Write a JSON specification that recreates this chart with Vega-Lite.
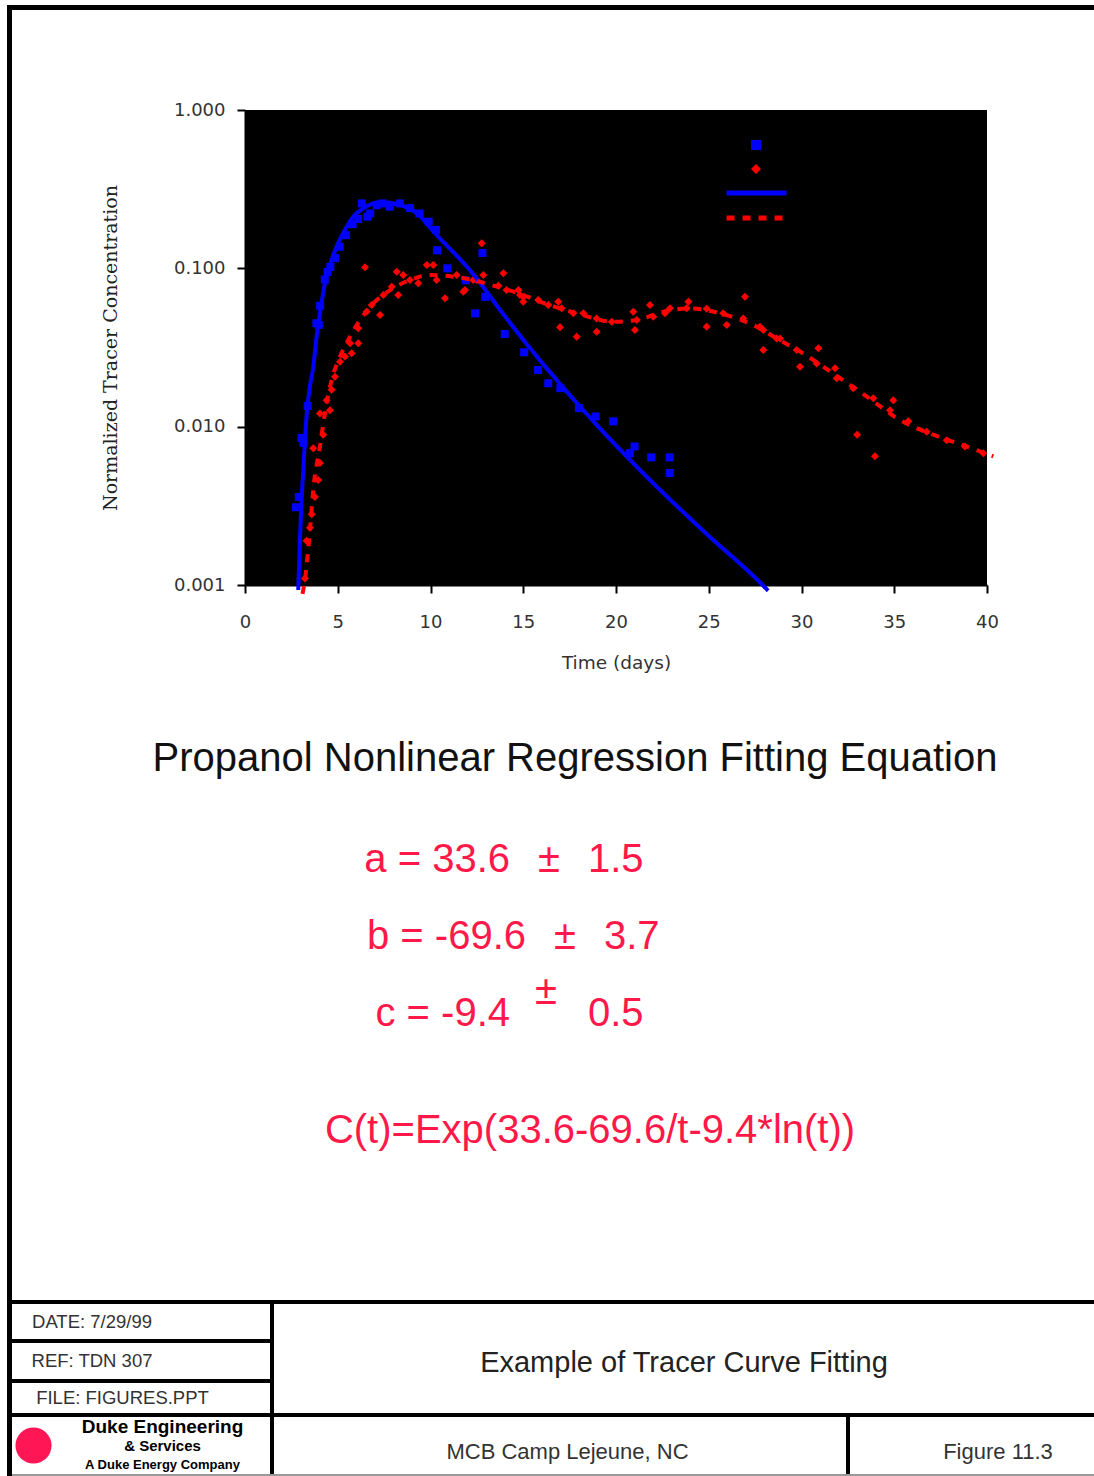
{
"$schema": "https://vega.github.io/schema/vega-lite/v6.json",
"background": "#ffffff",
"padding": {"left": 7, "top": 5, "right": 0, "bottom": 0},
"spacing": 0,
"config": {"view": {"stroke": null}, "concat": {"spacing": 0}},
"datasets": {
"pts": [
{"series":"Propanol (measured)","t":2.75,"C":0.0031},{"series":"Propanol (measured)","t":2.9,"C":0.0036},{"series":"Propanol (measured)","t":3.05,"C":0.0085},{"series":"Propanol (measured)","t":3.15,"C":0.0079},{"series":"Propanol (measured)","t":3.38,"C":0.0135},{"series":"Propanol (measured)","t":3.85,"C":0.045},{"series":"Propanol (measured)","t":3.98,"C":0.044},{"series":"Propanol (measured)","t":4.05,"C":0.058},{"series":"Propanol (measured)","t":4.3,"C":0.085},{"series":"Propanol (measured)","t":4.45,"C":0.095},{"series":"Propanol (measured)","t":4.6,"C":0.102},{"series":"Propanol (measured)","t":4.85,"C":0.116},{"series":"Propanol (measured)","t":5.1,"C":0.137},{"series":"Propanol (measured)","t":5.45,"C":0.162},{"series":"Propanol (measured)","t":5.8,"C":0.19},{"series":"Propanol (measured)","t":6.1,"C":0.205},{"series":"Propanol (measured)","t":6.3,"C":0.257},{"series":"Propanol (measured)","t":6.6,"C":0.212},{"series":"Propanol (measured)","t":6.75,"C":0.222},{"series":"Propanol (measured)","t":7.1,"C":0.25},{"series":"Propanol (measured)","t":7.4,"C":0.257},{"series":"Propanol (measured)","t":7.8,"C":0.245},{"series":"Propanol (measured)","t":8.35,"C":0.257},{"series":"Propanol (measured)","t":8.9,"C":0.24},{"series":"Propanol (measured)","t":9.4,"C":0.222},{"series":"Propanol (measured)","t":9.9,"C":0.197},{"series":"Propanol (measured)","t":10.3,"C":0.175},{"series":"Propanol (measured)","t":10.35,"C":0.13},{"series":"Propanol (measured)","t":10.9,"C":0.1},{"series":"Propanol (measured)","t":11.9,"C":0.084},{"series":"Propanol (measured)","t":12.4,"C":0.052},{"series":"Propanol (measured)","t":12.8,"C":0.125},{"series":"Propanol (measured)","t":12.95,"C":0.066},{"series":"Propanol (measured)","t":14.0,"C":0.0385},{"series":"Propanol (measured)","t":15.05,"C":0.0295},{"series":"Propanol (measured)","t":15.8,"C":0.0228},{"series":"Propanol (measured)","t":16.35,"C":0.0188},{"series":"Propanol (measured)","t":17.0,"C":0.0175},{"series":"Propanol (measured)","t":18.0,"C":0.0131},{"series":"Propanol (measured)","t":18.9,"C":0.0116},{"series":"Propanol (measured)","t":19.85,"C":0.0108},{"series":"Propanol (measured)","t":20.75,"C":0.0068},{"series":"Propanol (measured)","t":21.0,"C":0.0075},{"series":"Propanol (measured)","t":21.9,"C":0.0064},{"series":"Propanol (measured)","t":22.9,"C":0.0064},{"series":"Propanol (measured)","t":22.9,"C":0.0051},
{"series":"Tracer (measured)","t":3.23,"C":0.0011},{"series":"Tracer (measured)","t":3.32,"C":0.0019},{"series":"Tracer (measured)","t":3.5,"C":0.0023},{"series":"Tracer (measured)","t":3.6,"C":0.0028},{"series":"Tracer (measured)","t":3.68,"C":0.0073},{"series":"Tracer (measured)","t":3.77,"C":0.0036},{"series":"Tracer (measured)","t":3.95,"C":0.0046},{"series":"Tracer (measured)","t":4.04,"C":0.0059},{"series":"Tracer (measured)","t":4.04,"C":0.0121},{"series":"Tracer (measured)","t":4.22,"C":0.0089},{"series":"Tracer (measured)","t":4.4,"C":0.0147},{"series":"Tracer (measured)","t":4.58,"C":0.0127},{"series":"Tracer (measured)","t":4.67,"C":0.0171},{"series":"Tracer (measured)","t":4.85,"C":0.0207},{"series":"Tracer (measured)","t":5.12,"C":0.0257},{"series":"Tracer (measured)","t":5.39,"C":0.0277},{"series":"Tracer (measured)","t":5.66,"C":0.0336},{"series":"Tracer (measured)","t":5.75,"C":0.0291},{"series":"Tracer (measured)","t":6.11,"C":0.0336},{"series":"Tracer (measured)","t":6.11,"C":0.0418},{"series":"Tracer (measured)","t":6.47,"C":0.1016},{"series":"Tracer (measured)","t":6.56,"C":0.0532},{"series":"Tracer (measured)","t":6.83,"C":0.0587},{"series":"Tracer (measured)","t":7.28,"C":0.0507},{"series":"Tracer (measured)","t":7.46,"C":0.0679},{"series":"Tracer (measured)","t":7.91,"C":0.0766},{"series":"Tracer (measured)","t":8.18,"C":0.0952},{"series":"Tracer (measured)","t":8.26,"C":0.0679},{"series":"Tracer (measured)","t":8.53,"C":0.0907},{"series":"Tracer (measured)","t":8.89,"C":0.0843},{"series":"Tracer (measured)","t":9.34,"C":0.0804},{"series":"Tracer (measured)","t":9.8,"C":0.105},{"series":"Tracer (measured)","t":10.15,"C":0.105},{"series":"Tracer (measured)","t":10.33,"C":0.0843},{"series":"Tracer (measured)","t":10.78,"C":0.0647},{"series":"Tracer (measured)","t":11.41,"C":0.0907},{"series":"Tracer (measured)","t":11.77,"C":0.0712},{"series":"Tracer (measured)","t":11.86,"C":0.0729},{"series":"Tracer (measured)","t":12.3,"C":0.0843},{"series":"Tracer (measured)","t":12.49,"C":0.0843},{"series":"Tracer (measured)","t":12.76,"C":0.1439},{"series":"Tracer (measured)","t":12.85,"C":0.0907},{"series":"Tracer (measured)","t":13.66,"C":0.0775},{"series":"Tracer (measured)","t":13.93,"C":0.093},{"series":"Tracer (measured)","t":14.1,"C":0.0729},{"series":"Tracer (measured)","t":14.74,"C":0.0729},{"series":"Tracer (measured)","t":14.82,"C":0.0679},{"series":"Tracer (measured)","t":15.0,"C":0.0616},{"series":"Tracer (measured)","t":15.0,"C":0.0662},{"series":"Tracer (measured)","t":15.81,"C":0.0631},{"series":"Tracer (measured)","t":16.35,"C":0.0587},{"series":"Tracer (measured)","t":16.89,"C":0.0616},{"series":"Tracer (measured)","t":16.98,"C":0.0425},{"series":"Tracer (measured)","t":17.07,"C":0.0559},{"series":"Tracer (measured)","t":17.7,"C":0.052},{"series":"Tracer (measured)","t":17.88,"C":0.037},{"series":"Tracer (measured)","t":18.24,"C":0.052},{"series":"Tracer (measured)","t":18.96,"C":0.0398},{"series":"Tracer (measured)","t":18.96,"C":0.0483},{"series":"Tracer (measured)","t":19.77,"C":0.046},{"series":"Tracer (measured)","t":20.93,"C":0.0532},{"series":"Tracer (measured)","t":21.02,"C":0.0408},{"series":"Tracer (measured)","t":21.12,"C":0.0472},{"series":"Tracer (measured)","t":21.83,"C":0.0587},{"series":"Tracer (measured)","t":22.01,"C":0.0495},{"series":"Tracer (measured)","t":22.64,"C":0.052},{"series":"Tracer (measured)","t":22.91,"C":0.0559},{"series":"Tracer (measured)","t":23.81,"C":0.0559},{"series":"Tracer (measured)","t":23.9,"C":0.0616},{"series":"Tracer (measured)","t":24.89,"C":0.0556},{"series":"Tracer (measured)","t":24.89,"C":0.0428},{"series":"Tracer (measured)","t":25.78,"C":0.052},{"series":"Tracer (measured)","t":25.97,"C":0.0439},{"series":"Tracer (measured)","t":26.86,"C":0.0483},{"series":"Tracer (measured)","t":26.95,"C":0.0662},{"series":"Tracer (measured)","t":27.76,"C":0.0428},{"series":"Tracer (measured)","t":27.94,"C":0.0305},{"series":"Tracer (measured)","t":27.94,"C":0.0408},{"series":"Tracer (measured)","t":28.66,"C":0.0361},{"series":"Tracer (measured)","t":28.84,"C":0.0361},{"series":"Tracer (measured)","t":29.74,"C":0.0305},{"series":"Tracer (measured)","t":29.92,"C":0.0239},{"series":"Tracer (measured)","t":30.82,"C":0.0251},{"series":"Tracer (measured)","t":30.91,"C":0.0313},{"series":"Tracer (measured)","t":31.81,"C":0.0234},{"series":"Tracer (measured)","t":31.9,"C":0.0202},{"series":"Tracer (measured)","t":32.79,"C":0.0175},{"series":"Tracer (measured)","t":33.0,"C":0.0089},{"series":"Tracer (measured)","t":33.87,"C":0.0151},{"series":"Tracer (measured)","t":33.96,"C":0.0065},{"series":"Tracer (measured)","t":34.77,"C":0.0127},{"series":"Tracer (measured)","t":34.95,"C":0.0147},{"series":"Tracer (measured)","t":35.76,"C":0.0108},{"series":"Tracer (measured)","t":36.75,"C":0.0093},{"series":"Tracer (measured)","t":37.83,"C":0.0082},{"series":"Tracer (measured)","t":38.81,"C":0.0075},{"series":"Tracer (measured)","t":39.8,"C":0.0068}
],
"fit": [
{"series":"Propanol (fitted)","t":2.87,"C":0.00093},{"series":"Propanol (fitted)","t":3.05,"C":0.0034},{"series":"Propanol (fitted)","t":3.14,"C":0.0053},{"series":"Propanol (fitted)","t":3.33,"C":0.0121},{"series":"Propanol (fitted)","t":3.5,"C":0.0179},{"series":"Propanol (fitted)","t":3.68,"C":0.0239},{"series":"Propanol (fitted)","t":3.86,"C":0.037},{"series":"Propanol (fitted)","t":4.04,"C":0.052},{"series":"Propanol (fitted)","t":4.31,"C":0.0804},{"series":"Propanol (fitted)","t":4.58,"C":0.105},{"series":"Propanol (fitted)","t":4.94,"C":0.137},{"series":"Propanol (fitted)","t":5.39,"C":0.175},{"series":"Propanol (fitted)","t":5.84,"C":0.212},{"series":"Propanol (fitted)","t":6.38,"C":0.239},{"series":"Propanol (fitted)","t":7.28,"C":0.262},{"series":"Propanol (fitted)","t":8.36,"C":0.251},{"series":"Propanol (fitted)","t":9.26,"C":0.2226},{"series":"Propanol (fitted)","t":10.33,"C":0.1625},{"series":"Propanol (fitted)","t":12.2,"C":0.095},{"series":"Propanol (fitted)","t":14.0,"C":0.05},{"series":"Propanol (fitted)","t":15.3,"C":0.032},{"series":"Propanol (fitted)","t":18.06,"C":0.0134},{"series":"Propanol (fitted)","t":21.6,"C":0.0049},{"series":"Propanol (fitted)","t":24.7,"C":0.0022},{"series":"Propanol (fitted)","t":27.9,"C":0.001},{"series":"Propanol (fitted)","t":28.2,"C":0.00092},
{"series":"Tracer (fitted)","t":3.1,"C":0.00088},{"series":"Tracer (fitted)","t":3.23,"C":0.00108},{"series":"Tracer (fitted)","t":3.5,"C":0.0022},{"series":"Tracer (fitted)","t":3.68,"C":0.004},{"series":"Tracer (fitted)","t":4.04,"C":0.0075},{"series":"Tracer (fitted)","t":4.31,"C":0.0122},{"series":"Tracer (fitted)","t":4.67,"C":0.0197},{"series":"Tracer (fitted)","t":5.12,"C":0.0277},{"series":"Tracer (fitted)","t":5.66,"C":0.037},{"series":"Tracer (fitted)","t":6.2,"C":0.0472},{"series":"Tracer (fitted)","t":6.92,"C":0.0601},{"series":"Tracer (fitted)","t":7.82,"C":0.0729},{"series":"Tracer (fitted)","t":8.89,"C":0.0843},{"series":"Tracer (fitted)","t":9.97,"C":0.0907},{"series":"Tracer (fitted)","t":11.21,"C":0.0886},{"series":"Tracer (fitted)","t":12.3,"C":0.0843},{"series":"Tracer (fitted)","t":13.57,"C":0.0766},{"series":"Tracer (fitted)","t":15.0,"C":0.0678},{"series":"Tracer (fitted)","t":15.9,"C":0.0616},{"series":"Tracer (fitted)","t":17.88,"C":0.052},{"series":"Tracer (fitted)","t":19.85,"C":0.046},{"series":"Tracer (fitted)","t":21.12,"C":0.0472},{"series":"Tracer (fitted)","t":22.55,"C":0.0532},{"series":"Tracer (fitted)","t":23.99,"C":0.0559},{"series":"Tracer (fitted)","t":25.6,"C":0.052},{"series":"Tracer (fitted)","t":27.58,"C":0.0428},{"series":"Tracer (fitted)","t":28.66,"C":0.0361},{"series":"Tracer (fitted)","t":29.92,"C":0.0298},{"series":"Tracer (fitted)","t":31.71,"C":0.0217},{"series":"Tracer (fitted)","t":33.52,"C":0.0155},{"series":"Tracer (fitted)","t":35.31,"C":0.011},{"series":"Tracer (fitted)","t":37.1,"C":0.0089},{"series":"Tracer (fitted)","t":38.9,"C":0.0075},{"series":"Tracer (fitted)","t":40.34,"C":0.0065}
]
},
"hconcat": [
{"width": 5, "height": 1471, "data": {"values": []}, "mark": "point", "view": {"fill": "#000000"}},
{"spacing": 0, "vconcat": [
 {"width": 1082, "height": 5, "data": {"values": []}, "mark": "point", "view": {"fill": "#000000"}},
 {"width": 1082, "height": 91, "data": {"values": []}, "mark": "point"},
 {"spacing": 0, "hconcat": [
  {"width": 89, "height": 475, "data": {"values": []}, "mark": "point"},
  {"width": 742, "height": 475, "view": {"fill": "#000000"},
   "layer": [
    {"data": {"name": "pts"},
     "mark": {"type": "point", "filled": true, "size": 64, "opacity": 1, "clip": false},
     "encoding": {
      "x": {"field": "t", "type": "quantitative", "scale": {"domain": [0, 40], "nice": false, "zero": false},
            "axis": {"values": [0,5,10,15,20,25,30,35,40], "format": "d", "labelFont": "DejaVu Sans", "labelFontSize": 18, "labelColor": "#333333", "labelPadding": 20, "labelFlush": false, "labelOverlap": false, "tickSize": 8, "tickWidth": 2, "tickColor": "#000000", "domainColor": "#000000", "domainWidth": 2, "grid": false, "title": "Time (days)", "titleFont": "DejaVu Sans", "titleFontSize": 18.5, "titleFontWeight": "normal", "titleColor": "#333333", "titlePadding": 22}},
      "y": {"field": "C", "type": "quantitative", "scale": {"type": "log", "domain": [0.001, 1], "nice": false},
            "axis": {"values": [0.001, 0.01, 0.1, 1], "format": ".3f", "labelFont": "DejaVu Sans", "labelFontSize": 18, "labelColor": "#333333", "labelPadding": 12, "labelFlush": false, "labelOverlap": false, "tickSize": 8, "tickWidth": 2, "tickColor": "#000000", "domainColor": "#000000", "domainWidth": 2, "grid": false, "title": "Normalized Tracer Concentration", "titleFont": "DejaVu Serif", "titleFontSize": 19, "titleFontWeight": "normal", "titleColor": "#222222", "titlePadding": 53}},
      "color": {"field": "series", "type": "nominal", "scale": {"domain": ["Propanol (measured)", "Tracer (measured)"], "range": ["#0000ff", "#ff0000"]},
                "legend": {"orient": "none", "legendX": 742, "legendY": 133, "title": null, "padding": 0, "labelColor": "#000000", "labelFontSize": 14, "symbolSize": 100, "clipHeight": 14, "rowPadding": 10, "symbolStrokeWidth": 0}},
      "shape": {"field": "series", "type": "nominal", "scale": {"domain": ["Propanol (measured)", "Tracer (measured)"], "range": ["square", "diamond"]},
                "legend": {"orient": "none", "legendX": 742, "legendY": 133, "title": null, "padding": 0, "labelColor": "#000000", "labelFontSize": 14, "symbolSize": 100, "clipHeight": 14, "rowPadding": 10, "symbolStrokeWidth": 0}}
     }},
    {"data": {"name": "fit"},
     "mark": {"type": "line", "strokeWidth": 4, "clip": false, "interpolate": "monotone"},
     "encoding": {
      "x": {"field": "t", "type": "quantitative"},
      "y": {"field": "C", "type": "quantitative"},
      "stroke": {"field": "series", "type": "nominal", "scale": {"domain": ["Propanol (fitted)", "Tracer (fitted)"], "range": ["#0000ff", "#ff0000"]},
                 "legend": {"orient": "none", "legendX": 717, "legendY": 181, "title": null, "padding": 0, "labelColor": "#000000", "labelFontSize": 14, "symbolSize": 3600, "clipHeight": 14, "rowPadding": 11, "symbolStrokeWidth": 5, "symbolType": "stroke"}},
      "strokeDash": {"field": "series", "type": "nominal", "scale": {"domain": ["Propanol (fitted)", "Tracer (fitted)"], "range": [[1,0],[8,8]]},
                 "legend": {"orient": "none", "legendX": 717, "legendY": 181, "title": null, "padding": 0, "labelColor": "#000000", "labelFontSize": 14, "symbolSize": 3600, "clipHeight": 14, "rowPadding": 11, "symbolStrokeWidth": 5, "symbolType": "stroke"}}
     }}
   ]}
 ]},
 {"width": 1082, "height": 62, "data": {"values": []}, "mark": "point"},
 {"spacing": 0, "hconcat": [
  {"width": 44, "height": 50, "data": {"values": []}, "mark": "point"},
  {"width": 1038, "height": 50, "data": {"values": [{"txt": "Propanol Nonlinear Regression Fitting Equation"}]}, "mark": {"type": "text", "font": "Liberation Sans", "fontSize": 40, "color": "#111111"}, "encoding": {"text": {"field": "txt"}}}
 ]},
 {"width": 1082, "height": 37, "data": {"values": []}, "mark": "point"},
 {"width": 1082, "height": 231,
  "data": {"values": [
   {"param": "a", "part": "lhs", "txt": "a = 33.6"}, {"param": "a", "part": "pm", "txt": "±"}, {"param": "a", "part": "err", "txt": "1.5"},
   {"param": "b", "part": "lhs", "txt": "b = -69.6"}, {"param": "b", "part": "pm", "txt": "±"}, {"param": "b", "part": "err", "txt": "3.7"},
   {"param": "c", "part": "lhs", "txt": "c = -9.4"}, {"param": "c", "part": "pm", "txt": "±"}, {"param": "c", "part": "err", "txt": "0.5"}
  ]},
  "encoding": {
   "x": {"field": "part", "type": "nominal", "scale": {"type": "point", "domain": ["lhs", "pm", "err"], "range": [498, 576], "padding": 0}, "axis": null},
   "y": {"field": "param", "type": "nominal", "scale": {"type": "point", "domain": ["a", "b", "c"], "padding": 0.5}, "axis": null},
   "text": {"field": "txt"}
  },
  "layer": [
   {"transform": [{"filter": "datum.part == 'lhs' && datum.param != 'b'"}], "mark": {"type": "text", "align": "right", "font": "Liberation Sans", "fontSize": 40, "color": "#ff1848"}},
   {"transform": [{"filter": "datum.part == 'lhs' && datum.param == 'b'"}], "mark": {"type": "text", "align": "right", "dx": 16, "font": "Liberation Sans", "fontSize": 40, "color": "#ff1848"}},
   {"transform": [{"filter": "datum.part == 'pm' && datum.param == 'a'"}], "mark": {"type": "text", "align": "center", "font": "Liberation Sans", "fontSize": 40, "color": "#ff1848"}},
   {"transform": [{"filter": "datum.part == 'pm' && datum.param == 'b'"}], "mark": {"type": "text", "align": "center", "dx": 16, "font": "Liberation Sans", "fontSize": 40, "color": "#ff1848"}},
   {"transform": [{"filter": "datum.part == 'pm' && datum.param == 'c'"}], "mark": {"type": "text", "align": "center", "dx": -3, "dy": -22, "font": "Liberation Sans", "fontSize": 40, "color": "#ff1848"}},
   {"transform": [{"filter": "datum.part == 'err' && datum.param != 'b'"}], "mark": {"type": "text", "align": "left", "font": "Liberation Sans", "fontSize": 40, "color": "#ff1848"}},
   {"transform": [{"filter": "datum.part == 'err' && datum.param == 'b'"}], "mark": {"type": "text", "align": "left", "dx": 16, "font": "Liberation Sans", "fontSize": 40, "color": "#ff1848"}}
  ]},
 {"spacing": 0, "hconcat": [
  {"width": 74, "height": 158, "data": {"values": []}, "mark": "point"},
  {"width": 1008, "height": 158, "data": {"values": [{"txt": "C(t)=Exp(33.6-69.6/t-9.4*ln(t))"}]}, "mark": {"type": "text", "font": "Liberation Sans", "fontSize": 40, "color": "#ff1848"}, "encoding": {"text": {"field": "txt"}}}
 ]},
 {"width": 1082, "height": 90, "data": {"values": []}, "mark": "point"},
 {"width": 1082, "height": 4, "data": {"values": []}, "mark": "point", "view": {"fill": "#000000"}},
 {"spacing": 0, "hconcat": [
  {"spacing": 0, "vconcat": [
   {"width": 160, "height": 35, "data": {"values": [{"txt": "DATE: 7/29/99"}]}, "mark": {"type": "text", "font": "Liberation Sans", "fontSize": 18.5, "color": "#333333"}, "encoding": {"text": {"field": "txt"}}},
   {"width": 258, "height": 4, "data": {"values": []}, "mark": "point", "view": {"fill": "#000000"}},
   {"width": 160, "height": 36, "data": {"values": [{"txt": "REF:  TDN 307"}]}, "mark": {"type": "text", "font": "Liberation Sans", "fontSize": 18.5, "color": "#333333"}, "encoding": {"text": {"field": "txt"}}},
   {"width": 258, "height": 4, "data": {"values": []}, "mark": "point", "view": {"fill": "#000000"}},
   {"width": 221, "height": 30, "data": {"values": [{"txt": "FILE:  FIGURES.PPT"}]}, "mark": {"type": "text", "font": "Liberation Sans", "fontSize": 18.5, "color": "#333333"}, "encoding": {"text": {"field": "txt"}}}
  ]},
  {"width": 4, "height": 109, "data": {"values": []}, "mark": "point", "view": {"fill": "#000000"}},
  {"spacing": 0, "vconcat": [
   {"width": 820, "height": 9, "data": {"values": []}, "mark": "point"},
   {"width": 820, "height": 100, "data": {"values": [{"txt": "Example of Tracer Curve Fitting"}]}, "mark": {"type": "text", "font": "Liberation Sans", "fontSize": 29, "color": "#222222"}, "encoding": {"text": {"field": "txt"}}}
  ]}
 ]},
 {"width": 1082, "height": 4, "data": {"values": []}, "mark": "point", "view": {"fill": "#000000"}},
 {"spacing": 0, "hconcat": [
  {"spacing": 0, "hconcat": [
   {"width": 43, "height": 57, "data": {"values": [{"k": "logo"}]}, "mark": {"type": "point", "shape": "circle", "filled": true, "size": 1300, "color": "#ff1654", "opacity": 1}},
   {"width": 215, "height": 57,
    "data": {"values": [{"line": "1", "txt": "Duke Engineering"}, {"line": "2", "txt": "& Services"}, {"line": "3", "txt": "A Duke Energy Company"}]},
    "encoding": {"y": {"field": "line", "type": "ordinal", "axis": null, "scale": {"type": "point", "padding": 0.5}}, "text": {"field": "txt"}},
    "layer": [
     {"transform": [{"filter": "datum.line == '1'"}], "mark": {"type": "text", "font": "Liberation Sans", "fontWeight": "bold", "fontSize": 19, "color": "#000000"}},
     {"transform": [{"filter": "datum.line == '2'"}], "mark": {"type": "text", "font": "Liberation Sans", "fontWeight": "bold", "fontSize": 15, "color": "#000000"}},
     {"transform": [{"filter": "datum.line == '3'"}], "mark": {"type": "text", "font": "Liberation Sans", "fontWeight": "bold", "fontSize": 13, "color": "#000000"}}
    ]}
  ]},
  {"width": 4, "height": 57, "data": {"values": []}, "mark": "point", "view": {"fill": "#000000"}},
  {"spacing": 0, "hconcat": [
   {"width": 15, "height": 57, "data": {"values": []}, "mark": "point"},
   {"spacing": 0, "vconcat": [
    {"width": 557, "height": 13, "data": {"values": []}, "mark": "point"},
    {"width": 557, "height": 44, "data": {"values": [{"txt": "MCB Camp Lejeune, NC"}]}, "mark": {"type": "text", "font": "Liberation Sans", "fontSize": 22, "color": "#333333"}, "encoding": {"text": {"field": "txt"}}}
   ]}
  ]},
  {"width": 4, "height": 57, "data": {"values": []}, "mark": "point", "view": {"fill": "#000000"}},
  {"spacing": 0, "hconcat": [
   {"width": 52, "height": 57, "data": {"values": []}, "mark": "point"},
   {"spacing": 0, "vconcat": [
    {"width": 192, "height": 13, "data": {"values": []}, "mark": "point"},
    {"width": 192, "height": 44, "data": {"values": [{"txt": "Figure 11.3"}]}, "mark": {"type": "text", "font": "Liberation Sans", "fontSize": 22, "color": "#333333"}, "encoding": {"text": {"field": "txt"}}}
   ]}
  ]}
 ]},
 {"width": 1082, "height": 2, "data": {"values": []}, "mark": "point", "view": {"fill": "#999999"}}
]}
]
}
